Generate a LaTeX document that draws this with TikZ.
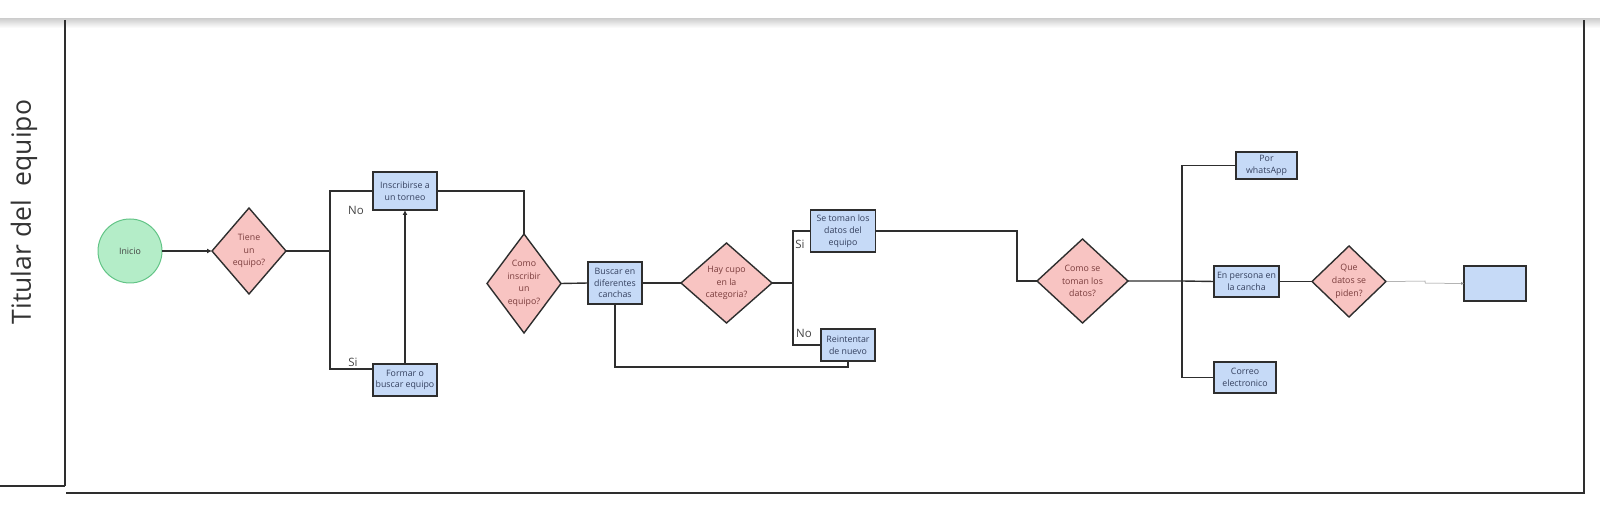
\documentclass[tikz,border=0pt]{standalone}
\usepackage{fontspec}
\setmainfont{Open Sans}
\usetikzlibrary{shapes.geometric,arrows.meta,calc}
\definecolor{pinkfill}{HTML}{F8C4C2}
\definecolor{bluefill}{HTML}{C6DAF7}
\definecolor{greenfill}{HTML}{B4EDC8}
\definecolor{greenline}{HTML}{62C486}
\definecolor{edgecol}{HTML}{2E2E2E}
\definecolor{boxtext}{HTML}{34405E}
\definecolor{dtext}{HTML}{7A3C3C}
\definecolor{lbl}{HTML}{444444}
\tikzset{
  base/.style={inner sep=0pt, outer sep=0pt, align=center, font=\fontsize{8.8}{11.8}\selectfont},
  procbox/.style={base, rectangle, draw=edgecol, line width=1.4pt, fill=bluefill, text=boxtext},
  decision/.style={base, diamond, draw=edgecol, line width=1.4pt, fill=pinkfill, text=dtext, shape aspect=1},
  startnode/.style={base, circle, draw=greenline, line width=1pt, fill=greenfill, text=black!75},
  conn/.style={draw=edgecol, line width=1.4pt},
  arr/.style={conn, -{Latex[length=5pt,width=5pt]}},
  thinarr/.style={draw=black!45, line width=0.5pt, -{Latex[length=3pt,width=3pt]}},
  edgelbl/.style={font=\fontsize{11.5}{13}\selectfont, text=lbl, inner sep=0pt},
  dlabel/.style={align=center, font=\fontsize{8.8}{12.7}\selectfont, text=dtext, inner sep=0pt}
}
\begin{document}
\begin{tikzpicture}[x=1pt,y=-1pt]
\useasboundingbox (0,0) rectangle (1600,510);
% top shadow
\shade[top color=black!18, bottom color=white] (0,19) rectangle (1600,28);
% frame
\draw[line width=1.6pt, draw=edgecol] (65,20) -- (65,486);
\draw[line width=1.2pt, draw=edgecol] (0,486) -- (65,486);
\draw[line width=1.2pt, draw=edgecol] (66,493) -- (1584,493) -- (1584,20);
\node[rotate=90, font=\fontsize{26.5}{30}\selectfont, text=black!80] (lane) at (24,212) {Titular del\ \ equipo};

% nodes
\node[startnode, minimum size=64pt] (inicio) at (130,251) {Inicio};
\node[decision, minimum width=74pt, minimum height=86pt, label={[dlabel]center:Tiene\\un\\equipo?}] (d1) at (249,251) {};
\node[procbox, minimum width=64pt, minimum height=38pt] (insc) at (405,191) {Inscribirse a\\un torneo};
\node[procbox, minimum width=64pt, minimum height=32pt] (formar) at (405,380) {Formar o\\buscar equipo};
\node[decision, minimum width=74pt, minimum height=99pt, label={[dlabel]center:Como\\inscribir\\un\\equipo?}] (d2) at (524,283.5) {};
\node[procbox, minimum width=54pt, minimum height=42pt] (buscar) at (615,283) {Buscar en\\diferentes\\canchas};
\node[decision, minimum width=91pt, minimum height=80pt, label={[dlabel]center:Hay cupo\\en la\\categoria?}] (d3) at (726.5,283) {};
\node[procbox, minimum width=65pt, minimum height=42pt] (se) at (843,231) {Se toman los\\datos del\\equipo};
\node[procbox, minimum width=54pt, minimum height=32pt] (reint) at (848,345) {Reintentar\\de nuevo};
\node[decision, minimum width=91pt, minimum height=84pt, label={[dlabel]center:Como se\\toman los\\datos?}] (d4) at (1082.5,281) {};
\node[procbox, minimum width=61pt, minimum height=27pt] (whats) at (1266.5,165.5) {Por\\whatsApp};
\node[procbox, minimum width=65pt, minimum height=31pt] (pers) at (1246.5,281.5) {En persona en\\la cancha};
\node[procbox, minimum width=62pt, minimum height=31pt] (correo) at (1245,377.5) {Correo\\electronico};
\node[decision, minimum width=74pt, minimum height=71pt, label={[dlabel]center:Que\\datos se\\piden?}] (d5) at (1349,281.5) {};
\node[procbox, minimum width=62pt, minimum height=35pt] (empty) at (1495,283.5) {};

% junctions
\coordinate (j1) at (330,251);
\coordinate (j3) at (793,283);
\coordinate (k4) at (1017,281);
\coordinate (j4) at (1182,281);
\coordinate (m5) at (1425,281);

% connectors
\draw[arr] (inicio.east) -- (d1.west);
\draw[conn] (d1.east) -- (j1) |- (insc.west);
\draw[conn] (j1) |- ([yshift=11pt]formar.west);
\draw[arr] (formar.north) -- (insc.south);
\draw[conn] (insc.east) -| (d2.north);
\draw[conn] (d2.east) -- (buscar.west);
\draw[conn] (buscar.east) -- (d3.west);
\draw[conn] (d3.east) -- (j3) |- (se.west);
\draw[conn] (j3) |- (reint.west);
\draw[conn] (reint.south) -- ++(0,6) -| (buscar.south);
\draw[conn] (se.east) -| (k4) -- (d4.west);
\draw[conn] (d4.east) -- (j4) -- (pers.west);
\draw[conn] (j4) |- (whats.west);
\draw[conn] (j4) |- (correo.west);
\draw[conn] (pers.east) -- (d5.west);
\draw[thinarr] (d5.east) -- (m5) -- ++(0,2) -- (empty.west);

% edge labels
\node[edgelbl] (lno1) at (356,210) {No};
\node[edgelbl] (lsi1) at (353,362) {Si};
\node[edgelbl] (lsi2) at (800,244) {Si};
\node[edgelbl] (lno2) at (804,333) {No};
\end{tikzpicture}
\end{document}
